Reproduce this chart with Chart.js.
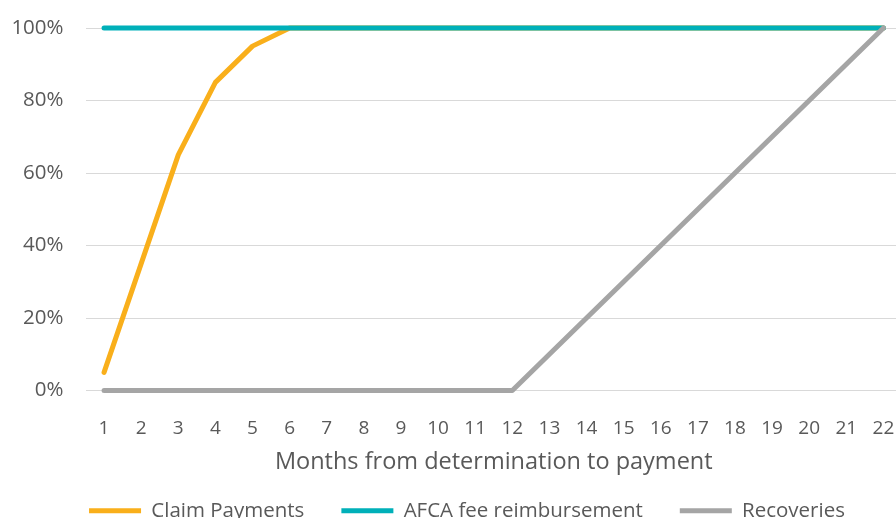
<!DOCTYPE html>
<html>
<head>
<meta charset="utf-8">
<script src="https://cdn.jsdelivr.net/npm/chart.js@4/dist/chart.umd.min.js"></script>
<style>
  html, body { margin: 0; padding: 0; background: #fff; overflow: hidden; }
  #wrap { width: 910px; height: 531px; position: relative; }
</style>
</head>
<body>
<div id="wrap"><canvas id="chart"></canvas></div>
<script>
// Data
const months = ['1','2','3','4','5','6','7','8','9','10','11','12','13','14','15','16','17','18','19','20','21','22'];
const claimPayments = [5,35,65,85,95,100,100,100,100,100,100,100,100,100,100,100,100,100,100,100,100,100];
const afcaFee       = [100,100,100,100,100,100,100,100,100,100,100,100,100,100,100,100,100,100,100,100,100,100];
const recoveries    = [0,0,0,0,0,0,0,0,0,0,0,0,10,20,30,40,50,60,70,80,90,100];
const yTicks = [0, 20, 40, 60, 80, 100];

const FONT = '"Open Sans", "Noto Sans", sans-serif';
const TEXT = '#595959';

function lineSet(label, data, color, order) {
  return {
    label, data, order,
    borderColor: color,
    backgroundColor: color,
    borderWidth: 5,
    borderCapStyle: 'round',
    borderJoinStyle: 'round',
    pointRadius: 0,
    pointHoverRadius: 0,
    tension: 0,
    fill: false,
    clip: false,
  };
}

// nudge the legend row a little to the right, as in the original
const legendShift = {
  id: 'legendShift',
  afterLayout(chart) {
    const lg = chart.legend;
    if (!lg) return;
    lg.left += 16;
    lg.right += 16;
  },
};

new Chart(document.getElementById('chart'), {
  type: 'line',
  data: {
    labels: months,
    datasets: [
      lineSet('Claim Payments', claimPayments, '#F9AF1B', 3),
      lineSet('AFCA fee reimbursement', afcaFee, '#00B0B9', 2),
      lineSet('Recoveries', recoveries, '#A5A5A5', 1),
    ],
  },
  plugins: [legendShift],
  options: {
    responsive: true,
    maintainAspectRatio: false,
    animation: false,
    layout: { autoPadding: false, padding: { left: 0, right: 8, top: 28, bottom: 0 } },
    plugins: {
      tooltip: { enabled: false },
      legend: {
        position: 'bottom',
        labels: {
          usePointStyle: true,
          pointStyle: 'line',
          pointStyleWidth: 52,
          boxHeight: 10,
          padding: 37,
          color: TEXT,
          font: { family: FONT, size: 20.5 },
          sort: (a, b) => a.datasetIndex - b.datasetIndex,
        },
      },
    },
    scales: {
      x: {
        offset: true,
        grid: { display: false },
        border: { display: false },
        ticks: { color: TEXT, padding: 19, maxRotation: 0, autoSkip: false, font: { family: FONT, size: 19 } },
        title: {
          display: true,
          text: 'Months from determination to payment',
          color: TEXT,
          font: { family: FONT, size: 23.5 },
          padding: { top: 0, bottom: -13 },
        },
        afterFit: s => { s.height = 73; s.paddingLeft = 0; s.paddingRight = 0; },
      },
      y: {
        min: 0, max: 100,
        afterBuildTicks: s => { s.ticks = yTicks.map(v => ({ value: v })); },
        grid: { color: '#D9D9D9', lineWidth: 1, drawTicks: false },
        border: { display: false },
        ticks: { color: TEXT, padding: 22, font: { family: FONT, size: 20.5 }, callback: v => v + '%' },
        afterFit: s => { s.width = 85.5; s.paddingTop = 0; s.paddingBottom = 0; },
      },
    },
  },
});
</script>
</body>
</html>
